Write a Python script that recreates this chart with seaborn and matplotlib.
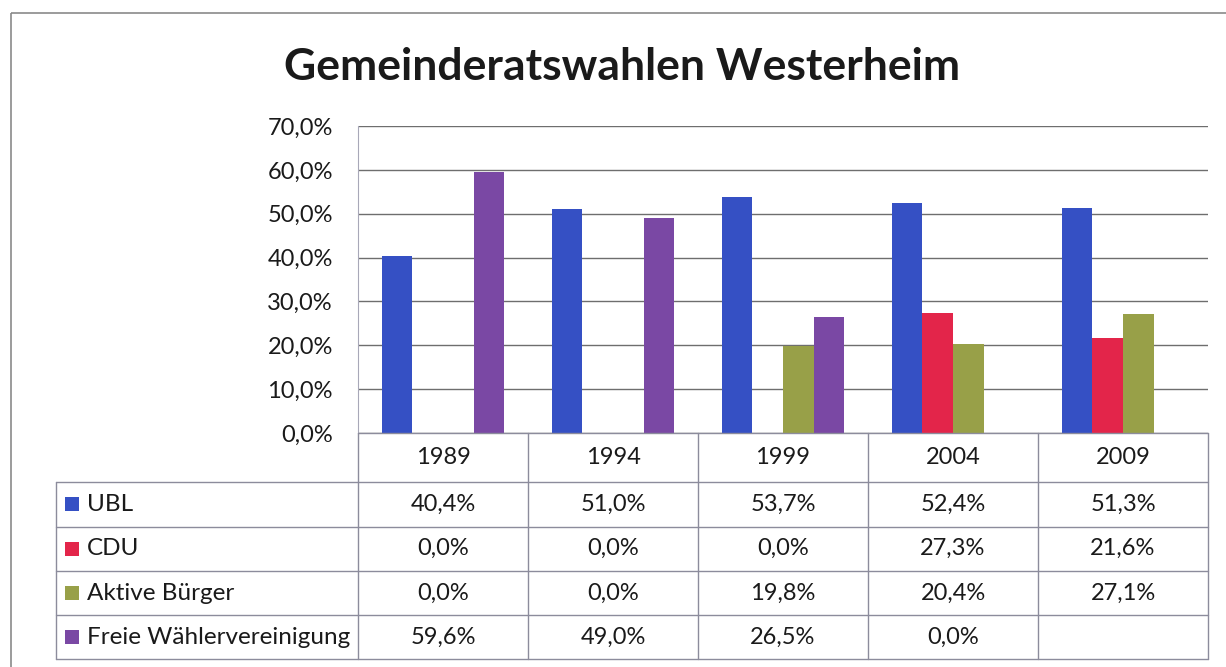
import numpy as np
import pandas as pd
import matplotlib
matplotlib.use("Agg")
import matplotlib.pyplot as plt
from matplotlib.lines import Line2D
from matplotlib.patches import Rectangle
import seaborn as sns

sns.set_style("white")
plt.rcParams['font.family'] = ['Lato', 'DejaVu Sans']

# data (percent of votes)
years = ["1989", "1994", "1999", "2004", "2009"]
parties = ["UBL", "CDU", "Aktive Bürger", "Freie Wählervereinigung"]
ubl = [40.4, 51.0, 53.7, 52.4, 51.3]
cdu = [0.0, 0.0, 0.0, 27.3, 21.6]
aktive = [0.0, 0.0, 19.8, 20.4, 27.1]
freie = [59.6, 49.0, 26.5, 0.0, np.nan]
colors = ["#3550c4", "#e3254a", "#98a048", "#7a48a4"]

wide = pd.DataFrame({"Jahr": years, parties[0]: ubl, parties[1]: cdu,
                     parties[2]: aktive, parties[3]: freie})
df = wide.melt(id_vars="Jahr", var_name="Partei", value_name="Anteil")

def pct(v):
    return "" if pd.isna(v) else f"{v:.1f}%".replace(".", ",")

# layout in pixels
W, H = 1226, 667
PL, PR, PT, PB = 358, 1208, 126, 433
ROWS = [433, 482, 526.5, 571, 615, 659]
TL = 56
FS = 17

fig = plt.figure(figsize=(W / 100, H / 100), dpi=100)
ax = fig.add_axes([PL / W, 1 - PB / H, (PR - PL) / W, (PB - PT) / H])

sns.barplot(data=df, x="Jahr", y="Anteil", hue="Partei", order=years,
            hue_order=parties, palette=colors, width=0.72, gap=0,
            saturation=1, linewidth=0, legend=False, ax=ax)

ax.set_xlim(-0.5, len(years) - 0.5)
ax.set_ylim(0, 70)
ticks = np.arange(0, 71, 10)
ax.set_yticks(ticks)
ax.set_yticklabels([pct(t) for t in ticks], fontsize=FS, color="#1a1a1a")
ax.tick_params(axis="y", length=0, pad=18)
ax.tick_params(axis="x", length=0, labelbottom=False)
ax.set_xlabel("")
ax.set_ylabel("")
ax.yaxis.grid(True, color="#6e6e6e", lw=1)
ax.set_axisbelow(True)
for s in ["top", "right", "bottom"]:
    ax.spines[s].set_visible(False)
ax.spines["left"].set_color("#a8a8b8")

# overlay for table, title and frame
ov = fig.add_axes([0, 0, 1, 1], zorder=3)
ov.set_xlim(0, W)
ov.set_ylim(H, 0)
ov.axis("off")

ov.text(622, 80, "Gemeinderatswahlen Westerheim", ha="center", va="baseline",
        fontsize=32, fontweight="bold", color="#1a1a1a")

ov.add_patch(Rectangle((11, 13), W, H, fill=False, ec="#8a8a8a", lw=1.2))

lc = "#8c8c9c"
colw = (PR - PL) / len(years)
ov.add_line(Line2D([PL, PR], [ROWS[0], ROWS[0]], color=lc, lw=1))
for y in ROWS[1:]:
    ov.add_line(Line2D([TL, PR], [y, y], color=lc, lw=1))
ov.add_line(Line2D([TL, TL], [ROWS[1], ROWS[-1]], color=lc, lw=1))
for i in range(len(years) + 1):
    x = PL + i * colw
    ov.add_line(Line2D([x, x], [ROWS[0], ROWS[-1]], color=lc, lw=1))

for i, yr in enumerate(years):
    cx = PL + (i + 0.5) * colw
    ov.text(cx, (ROWS[0] + ROWS[1]) / 2, yr, ha="center", va="center",
            fontsize=FS, color="#1a1a1a")

for r, (name, col) in enumerate(zip(parties, colors)):
    cy = (ROWS[r + 1] + ROWS[r + 2]) / 2
    ov.add_patch(Rectangle((65, cy - 7), 14, 14, color=col, lw=0))
    ov.text(87, cy, name, ha="left", va="center", fontsize=FS + 0.5,
            color="#1a1a1a")
    vals = wide[name].tolist()
    for i, v in enumerate(vals):
        cx = PL + (i + 0.5) * colw
        ov.text(cx, cy, pct(v), ha="center", va="center", fontsize=FS,
                color="#1a1a1a")

fig.savefig("out.png", dpi=100)
